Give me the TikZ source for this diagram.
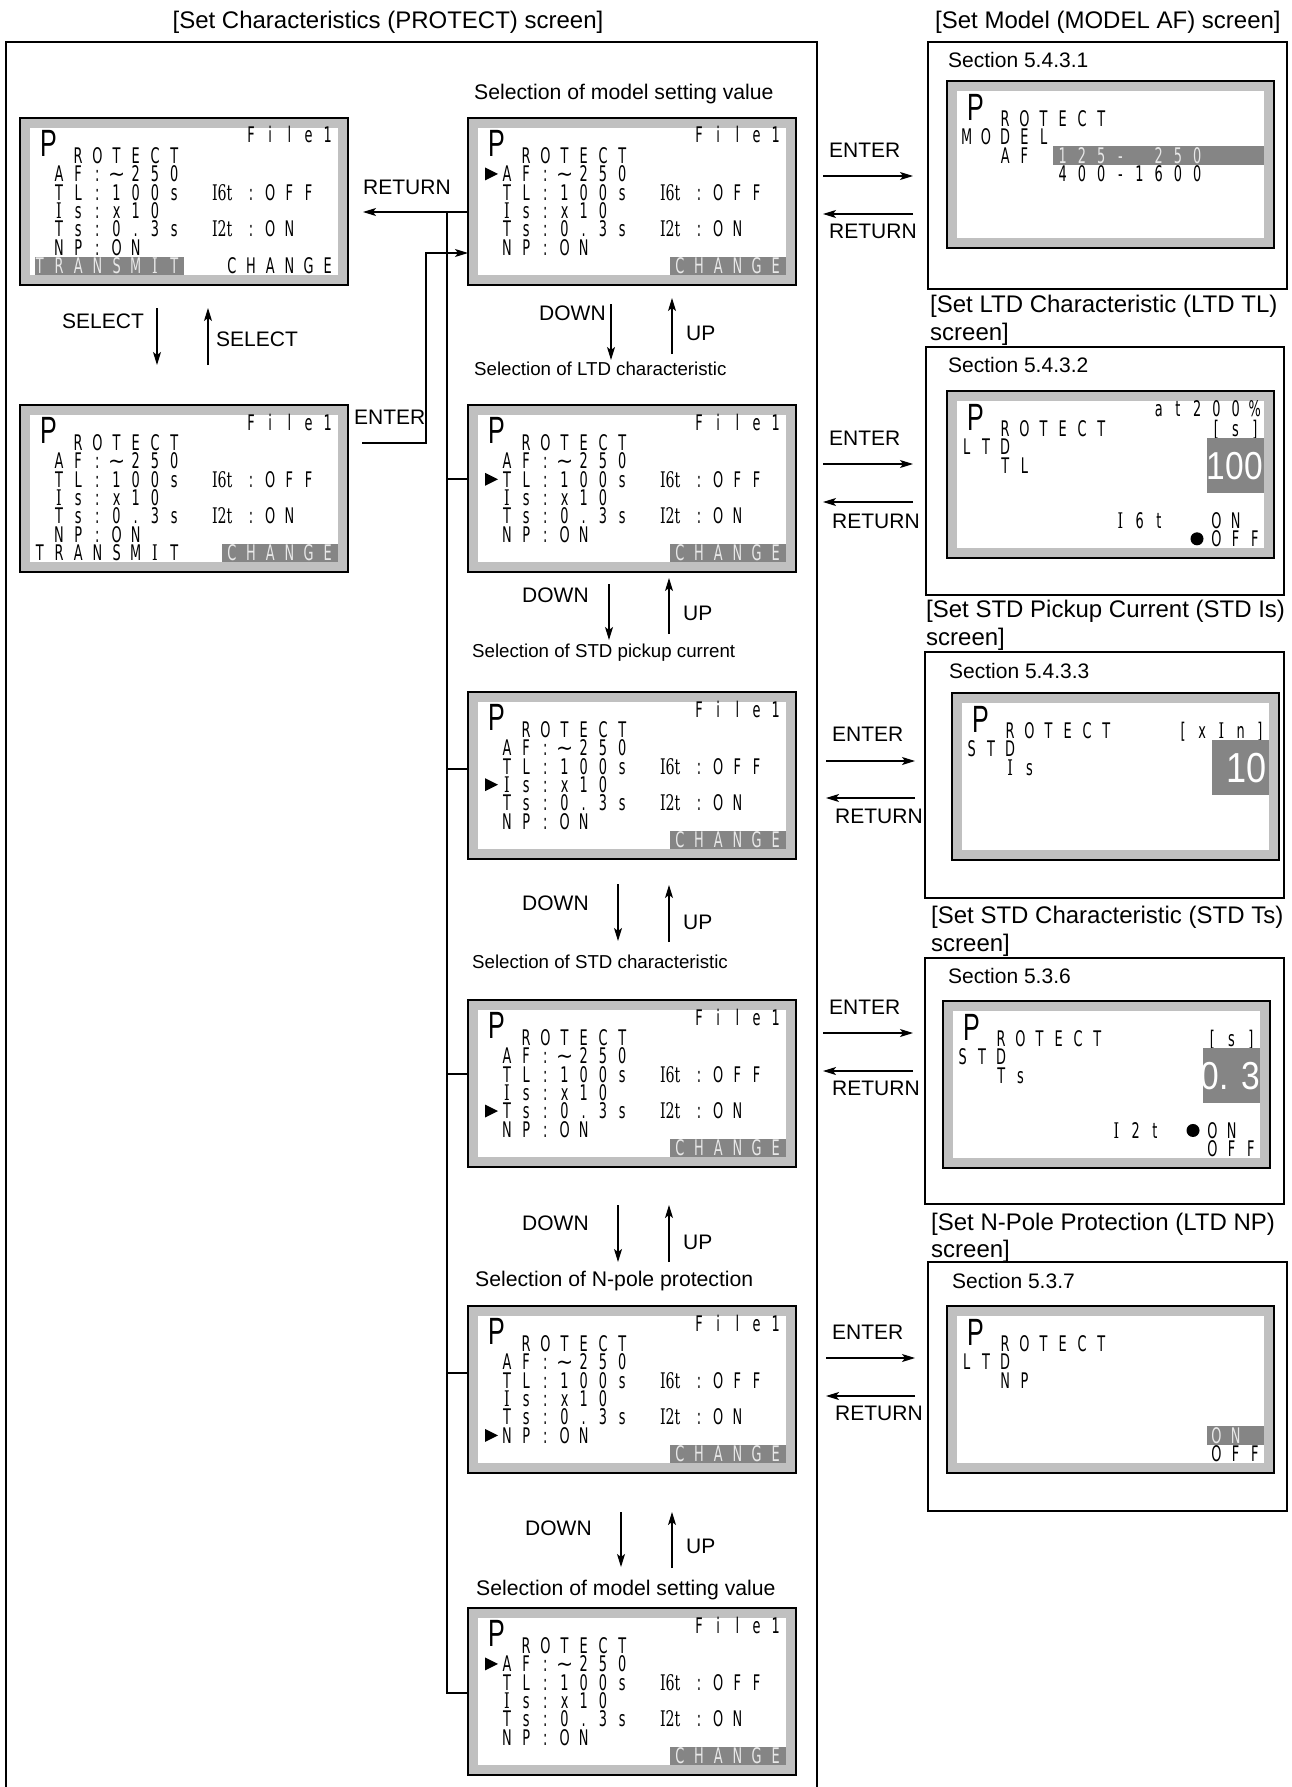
\documentclass[tikz,border=0pt]{standalone}
\usepackage{fontspec}
\setmainfont{Liberation Sans}
\newfontfamily\lcdf[FakeStretch=0.6]{DejaVu Sans}
\newfontfamily\tildef[FakeStretch=0.95]{DejaVu Sans}
\newfontfamily\lcdsf[FakeStretch=0.66]{DejaVu Serif}
\newfontfamily\bigpf[FakeStretch=0.66]{Liberation Sans}
\newfontfamily\bigf[FakeStretch=0.86]{Liberation Sans}
\usetikzlibrary{arrows.meta}
\definecolor{bez}{HTML}{C0C0C0}
\definecolor{hl}{HTML}{858585}
\definecolor{hltext}{HTML}{E8E8E8}

\newlength\lcdcell \setlength\lcdcell{19.2pt}
\def\lcdend{\lcdend}
\def\lcdsp{\relax}
\def\lcdtilde{{\tildef ∼}}
\def\lcdI{{\lcdsf I}}
\def\lcdloop#1{\ifx#1\lcdend\else\makebox[\lcdcell][c]{#1}\expandafter\lcdloop\fi}
\newcommand\lcds[1]{\lcdloop#1\lcdend}
\newcommand\lcdtwo[1]{\makebox[2\lcdcell][c]{\lcdsf #1}}
\newcommand\cx[1]{10+19.2*(#1)}
\newcommand\ry[1]{19.2+18.375*(#1)}

\tikzset{
 bezel/.style={draw=black, line width=2.5pt, fill=bez, inner sep=0pt, outer sep=0pt, anchor=north west, minimum width=328pt, minimum height=167pt},
 lcd/.style={font=\lcdf\fontsize{21.5}{21.5}\selectfont, inner sep=0pt, text height=15.6pt, text depth=0pt, anchor=west},
 lcdw/.style={lcd, text=hltext},
 bigp/.style={font=\bigpf\fontsize{38}{38}\selectfont, inner sep=0pt, text height=27pt, text depth=0pt, anchor=north west},
 bigv/.style={font=\bigf\fontsize{39}{39}\selectfont, text=white, inner sep=0pt, text height=28pt, text depth=0pt, anchor=east},
 lbl/.style={font=\fontsize{21}{25}\selectfont, inner sep=0pt, text height=15pt, text depth=0pt, anchor=west},
 sel/.style={font=\fontsize{18.7}{22}\selectfont, inner sep=0pt, text height=13.4pt, text depth=0pt, anchor=west},
 hdr/.style={font=\fontsize{24}{28}\selectfont, inner sep=0pt, text height=17pt, text depth=0pt, anchor=west},
 conn/.style={line width=1.2pt},
 arr/.style={conn, -{Stealth[length=13pt, width=8pt, inset=3pt]}},
 secbox/.style={draw, line width=1.6pt, inner sep=0pt, outer sep=0pt, anchor=north west},
}

% #1 name, #2 x, #3 y, #4 arrow row (0 = none), #5 bottom mode
\newcommand\protscr[5]{%
\begin{scope}[shift={(#2,#3)}]
\node[bezel] (#1) at (0,0) {};
\fill[white] (10,10) rectangle (318,157);
\node[bigp] (#1-p) at (20,11) {P};
\node[lcd] (#1-r0) at ({\cx{11}},{\ry{0}-2}) {\lcds{File1}};
\node[lcd] (#1-r1) at ({\cx{2}},{\ry{1}}) {\lcds{ROTECT}};
\node[lcd] (#1-r2) at ({\cx{1}},{\ry{2}}) {\lcds{AF:\lcdtilde250}};
\node[lcd] (#1-r3) at ({\cx{1}},{\ry{3}}) {\lcds{TL:100s\lcdsp}\lcdtwo{I6t}\lcds{:OFF}};
\node[lcd] (#1-r4) at ({\cx{1}},{\ry{4}}) {\lcds{\lcdI s:x10}};
\node[lcd] (#1-r5) at ({\cx{1}},{\ry{5}}) {\lcds{Ts:0.3s\lcdsp}\lcdtwo{I2t}\lcds{:ON}};
\node[lcd] (#1-r6) at ({\cx{1}},{\ry{6}}) {\lcds{NP:ON}};
\ifnum#4>0 \fill (17,{\ry{#4}-6.5}) -- (30,{\ry{#4}}) -- (17,{\ry{#4}+6.5}) -- cycle;\fi
\ifcase#5
  \fill[hl] (202,{\ry{7}-9.2}) rectangle (318,157);
  \node[lcdw] (#1-r7) at ({\cx{10}},{\ry{7}}) {\lcds{CHANGE}};
\or
  \fill[hl] (15,{\ry{7}-9.2}) rectangle (164,157);
  \node[lcdw] (#1-r7) at ({\cx{0}},{\ry{7}}) {\lcds{TRANSM\lcdI T}};
  \node[lcd] (#1-r7b) at ({\cx{10}},{\ry{7}}) {\lcds{CHANGE}};
\or
  \node[lcd] (#1-r7) at ({\cx{0}},{\ry{7}}) {\lcds{TRANSM\lcdI T}};
  \fill[hl] (202,{\ry{7}-9.2}) rectangle (318,157);
  \node[lcdw] (#1-r7b) at ({\cx{10}},{\ry{7}}) {\lcds{CHANGE}};
\fi
\end{scope}}

% base of a right-side LCD (inside a shifted scope)
\newcommand\lcdbase[1]{%
\node[bezel, minimum width=327pt] (#1) at (0,0) {};
\fill[white] (10,10) rectangle (317,157);
\node[bigp] (#1-p) at (20,12) {P};
\node[lcd] (#1-r1) at ({\cx{2}},{\ry{1}}) {\lcds{ROTECT}};}

\begin{document}
\begin{tikzpicture}[x=1pt,y=-1pt]
\useasboundingbox (0,0) rectangle (1291,1787);
\fill[white] (0,0) rectangle (1291,1787);

% ---------- left main frame ----------
\node[hdr, anchor=center] (title) at (388,20) {[Set Characteristics (PROTECT) screen]};
\draw[line width=2pt] (6,1790) -- (6,42) -- (817,42) -- (817,1790);

% ---------- screens ----------
\protscr{l1}{20}{118}{0}{1}
\protscr{l2}{20}{405}{0}{2}
\protscr{m1}{468}{118}{2}{0}
\protscr{m2}{468}{405}{3}{0}
\protscr{m3}{468}{692}{4}{0}
\protscr{m4}{468}{1000}{5}{0}
\protscr{m5}{468}{1306}{6}{0}
\protscr{m6}{468}{1608}{2}{0}

% ---------- selection labels ----------
\node[lbl, font=\fontsize{21.2}{25}\selectfont] (s0) at (474,92) {Selection of model setting value};
\node[sel] (s1) at (474,369) {Selection of LTD characteristic};
\node[sel] (s2) at (472,651) {Selection of STD pickup current};
\node[sel] (s3) at (472,962) {Selection of STD characteristic};
\node[lbl, font=\fontsize{21.2}{25}\selectfont] (s4) at (475,1279) {Selection of N-pole protection};
\node[lbl, font=\fontsize{21.2}{25}\selectfont] (s5) at (476,1588) {Selection of model setting value};

% ---------- SELECT arrows (left) ----------
\coordinate (sd1) at (157,308); \coordinate (sd2) at (157,365);
\coordinate (su1) at (208,365); \coordinate (su2) at (208,308);
\draw[arr] (sd1) -- (sd2);
\draw[arr] (su1) -- (su2);
\node[lbl] (sel1) at (62,321) {SELECT};
\node[lbl] (sel2) at (216,339) {SELECT};

% ---------- RETURN / bus / ENTER in left frame ----------
\coordinate (rtip) at (363,212);
\draw[arr] (m1.west |- rtip) -- (rtip);
\node[lbl] (lret) at (363,187) {RETURN};
\coordinate (busT) at (447,212);
\coordinate (busB) at (447,1693);
\draw[conn] (busT) -- (busB) -- (busB -| m6.west);
\coordinate (br2) at (447,479); \draw[conn] (br2) -- (br2 -| m2.west);
\coordinate (br3) at (447,769); \draw[conn] (br3) -- (br3 -| m3.west);
\coordinate (br4) at (447,1074); \draw[conn] (br4) -- (br4 -| m4.west);
\coordinate (br5) at (447,1373); \draw[conn] (br5) -- (br5 -| m5.west);
\coordinate (en0) at (362,443);
\coordinate (en1) at (426,443);
\coordinate (en2) at (426,253);
\draw[arr] (en0) -- (en1) -- (en2) -- (en2 -| m1.west);
\node[lbl] (lent) at (354,417) {ENTER};

% ---------- DOWN / UP ----------
\foreach \i/\dl/\dy/\dx/\da/\db/\ux/\uy/\ua/\ub in {
  1/539/313/611/304/360/672/333/354/298,
  2/522/595/609/584/640/669/613/634/578,
  3/522/903/618/884/941/669/922/942/885,
  4/522/1223/618/1205/1262/669/1242/1262/1205,
  5/525/1528/621/1512/1567/672/1546/1568/1512}{
  \node[lbl] (down\i) at (\dl,\dy) {DOWN};
  \coordinate (dA\i) at (\dx,\da); \coordinate (dB\i) at (\dx,\db);
  \draw[arr] (dA\i) -- (dB\i);
  \coordinate (uA\i) at (\ux,\ua); \coordinate (uB\i) at (\ux,\ub);
  \draw[arr] (uA\i) -- (uB\i);
  \node[lbl] (up\i) at ({\ux+14},\uy) {UP};
}

% ---------- right side boxes ----------
\node[hdr] (h1) at (935,20) {[Set Model (MODEL AF) screen]};
\node[hdr] (h2a) at (930,304) {[Set LTD Characteristic (LTD TL)};
\node[hdr] (h2b) at (930,332) {screen]};
\node[hdr] (h3a) at (926,609) {[Set STD Pickup Current (STD Is)};
\node[hdr] (h3b) at (926,637) {screen]};
\node[hdr] (h4a) at (931,915) {[Set STD Characteristic (STD Ts)};
\node[hdr] (h4b) at (931,943) {screen]};
\node[hdr] (h5a) at (931,1222) {[Set N-Pole Protection (LTD NP)};
\node[hdr] (h5b) at (931,1249) {screen]};

\node[secbox, minimum width=359pt, minimum height=247pt] (b1) at (928,42) {};
\node[secbox, minimum width=358pt, minimum height=248pt] (b2) at (926,347) {};
\node[secbox, minimum width=359pt, minimum height=246pt] (b3) at (925,652) {};
\node[secbox, minimum width=359pt, minimum height=246pt] (b4) at (925,958) {};
\node[secbox, minimum width=359pt, minimum height=249pt] (b5) at (928,1262) {};

\node[lbl] (sec1) at (948,60) {Section 5.4.3.1};
\node[lbl] (sec2) at (948,365) {Section 5.4.3.2};
\node[lbl] (sec3) at (949,671) {Section 5.4.3.3};
\node[lbl] (sec4) at (948,976) {Section 5.3.6};
\node[lbl] (sec5) at (952,1281) {Section 5.3.7};

% LCD 1: model
\begin{scope}[shift={(947,81)}]
\lcdbase{r1}
\node[lcd] (r1-a) at ({\cx{0}},{\ry{2}}) {\lcds{MODEL}};
\node[lcd] (r1-b) at ({\cx{2}},{\ry{3}}) {\lcds{AF}};
\fill[hl] ({\cx{5}},{\ry{3}-9.2}) rectangle (317,{\ry{3}+9.2});
\node[lcdw] (r1-c) at ({\cx{5}},{\ry{3}}) {\lcds{125-\lcdsp250}};
\node[lcd] (r1-d) at ({\cx{5}},{\ry{4}}) {\lcds{400-1600}};
\end{scope}

% LCD 2: LTD TL
\begin{scope}[shift={(947,391)}]
\lcdbase{r2}
\node[lcd] (r2-a) at ({\cx{10}},{\ry{0}-2}) {\lcds{at200\%}};
\node[lcd] (r2-b) at ({\cx{13}},{\ry{1}}) {\lcds{[s]}};
\node[lcd] (r2-c) at ({\cx{0}},{\ry{2}}) {\lcds{LTD}};
\node[lcd] (r2-d) at ({\cx{2}},{\ry{3}}) {\lcds{TL}};
\fill[hl] ({\cx{13}},{\ry{2}-9.2}) rectangle (317,{\ry{4}+9.2});
\node[bigv] (r2-v) at (316,{\ry{3}}) {100};
\node[lcd] (r2-e) at ({\cx{8}},{\ry{6}}) {\lcds{\lcdI 6t}};
\node[lcd] (r2-f) at ({\cx{13}},{\ry{6}}) {\lcds{ON}};
\node[lcd] (r2-g) at ({\cx{13}},{\ry{7}}) {\lcds{OFF}};
\fill ({\cx{12}+9.6},{\ry{7}}) circle (6.5);
\end{scope}

% LCD 3: STD Is
\begin{scope}[shift={(952,693)}]
\lcdbase{r3}
\node[lcd] (r3-a) at ({\cx{11}},{\ry{1}}) {\lcds{[x\lcdI n]}};
\node[lcd] (r3-c) at ({\cx{0}},{\ry{2}}) {\lcds{STD}};
\node[lcd] (r3-d) at ({\cx{2}},{\ry{3}}) {\lcds{\lcdI s}};
\fill[hl] ({\cx{13}},{\ry{2}-9.2}) rectangle (317,{\ry{4}+9.2});
\node[bigv, font=\bigf\fontsize{42}{42}\selectfont, text height=30pt] (r3-v) at (315,{\ry{3}}) {10};
\end{scope}

% LCD 4: STD Ts
\begin{scope}[shift={(943,1001)}]
\lcdbase{r4}
\node[lcd] (r4-b) at ({\cx{13}},{\ry{1}}) {\lcds{[s]}};
\node[lcd] (r4-c) at ({\cx{0}},{\ry{2}}) {\lcds{STD}};
\node[lcd] (r4-d) at ({\cx{2}},{\ry{3}}) {\lcds{Ts}};
\fill[hl] ({\cx{13}},{\ry{2}-9.2}) rectangle (317,{\ry{4}+9.2});
\node[bigv] (r4-v) at (317,{\ry{3}}) {0. 3};
\node[lcd] (r4-e) at ({\cx{8}},{\ry{6}}) {\lcds{\lcdI 2t}};
\node[lcd] (r4-f) at ({\cx{13}},{\ry{6}}) {\lcds{ON}};
\node[lcd] (r4-g) at ({\cx{13}},{\ry{7}}) {\lcds{OFF}};
\fill ({\cx{12}+9.6},{\ry{6}}) circle (6.5);
\end{scope}

% LCD 5: LTD NP
\begin{scope}[shift={(947,1306)}]
\lcdbase{r5}
\node[lcd] (r5-c) at ({\cx{0}},{\ry{2}}) {\lcds{LTD}};
\node[lcd] (r5-d) at ({\cx{2}},{\ry{3}}) {\lcds{NP}};
\fill[hl] ({\cx{13}},{\ry{6}-9.2}) rectangle (317,{\ry{6}+9.2});
\node[lcdw] (r5-f) at ({\cx{13}},{\ry{6}}) {\lcds{ON}};
\node[lcd] (r5-g) at ({\cx{13}},{\ry{7}}) {\lcds{OFF}};
\end{scope}

% ---------- ENTER / RETURN arrows to right boxes ----------
\foreach \k/\xa/\xb/\ey/\ry/\ely/\rly/\elx/\rlx in {
  1/823/913/176/214/150/231/829/829,
  2/823/913/464/502/438/521/829/832,
  3/826/915/761/798/734/816/832/835,
  4/823/913/1033/1071/1007/1088/829/832,
  5/826/915/1358/1396/1332/1413/832/835}{
  \coordinate (ea\k) at (\xa,\ey); \coordinate (eb\k) at (\xb,\ey);
  \draw[arr] (ea\k) -- (eb\k);
  \coordinate (ra\k) at (\xb,\ry); \coordinate (rb\k) at (\xa,\ry);
  \draw[arr] (ra\k) -- (rb\k);
  \node[lbl] (ent\k) at (\elx,\ely) {ENTER};
  \node[lbl] (ret\k) at (\rlx,\rly) {RETURN};
}
\end{tikzpicture}
\end{document}
